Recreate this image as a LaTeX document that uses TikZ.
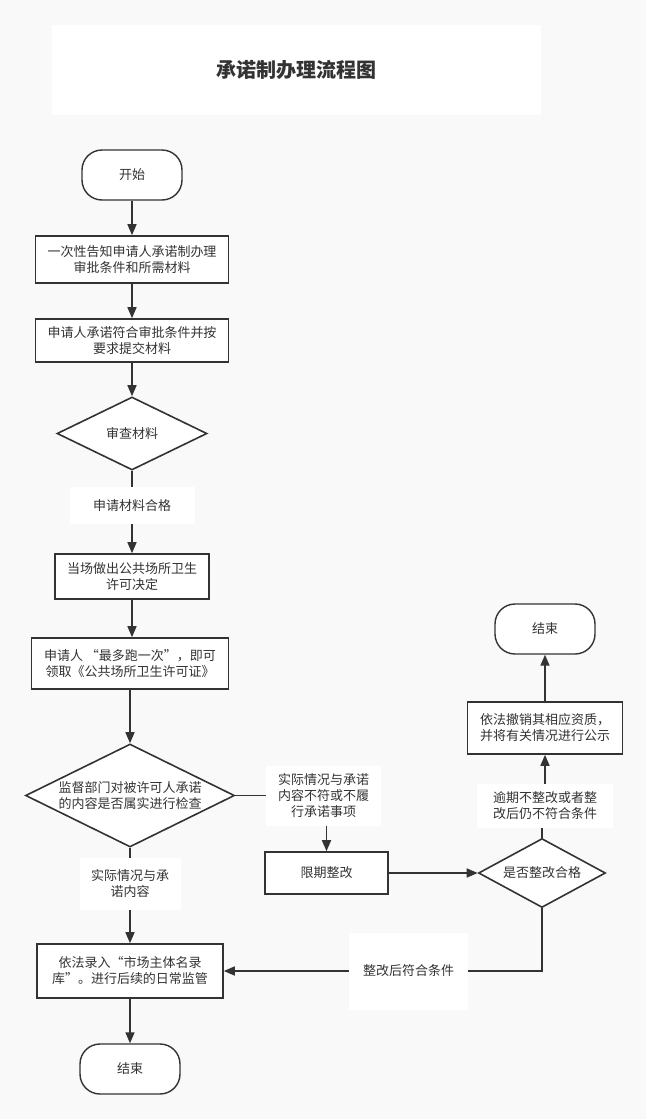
\documentclass[tikz,border=0pt]{standalone}
\usepackage{fontspec}
\setmainfont{Noto Sans CJK SC}
\usepackage{xcolor}
\usepackage{tikz}
\usetikzlibrary{shapes.geometric, arrows.meta}
\usetikzlibrary{calc,positioning}

\definecolor{ink}{HTML}{333333}
\definecolor{page}{HTML}{F9F9F9}

\tikzset{
  every node/.style={text=ink, font=\fontsize{13}{16}\selectfont, align=center},
  proc/.style={draw=ink, line width=1.6pt, fill=white, inner sep=0pt},
  term/.style={draw=ink, line width=1.4pt, fill=white, rounded corners=20pt,
    minimum width=100pt, minimum height=50pt},
  cond/.style={diamond, draw=ink, line width=1.6pt, fill=white, inner sep=0pt},
  tag/.style={fill=white, inner sep=0pt},
  flow/.style={draw=ink, line width=1.6pt, -{Triangle[length=11pt,width=9pt]}},
  link/.style={draw=ink, line width=1.6pt},
}

\begin{document}
\begin{tikzpicture}[x=1pt, y=-1pt]

    % Achtergrond
    \fill[page] (0,0) rectangle (646,1119);
    \useasboundingbox (0,0) rectangle (646,1119);

    % Titel
    \node[fill=white, inner sep=0pt, minimum width=489pt, minimum height=90pt,
      font=\fontsize{20}{24}\selectfont\bfseries] (title) at (296.5,70) {承诺制办理流程图};

    % Hoofdlijn
    \node[term] (start) at (132,175) {开始};
    \node[proc, minimum width=193pt, minimum height=47pt] (notify) at (132,259.5)
      {一次性告知申请人承诺制办理\\审批条件和所需材料};
    \node[proc, minimum width=193pt, minimum height=43pt] (submit) at (132,340.5)
      {申请人承诺符合审批条件并按\\要求提交材料};
    \node[cond, aspect=2, minimum width=150pt, minimum height=73pt] (review) at (132,433.5) {审查材料};
    \node[tag, minimum width=125pt, minimum height=37pt] (lblok) at (132,505.5) {申请材料合格};
    \node[proc, minimum width=154pt, minimum height=45pt] (decide) at (132,576.5)
      {当场做出公共场所卫生\\许可决定};
    \node[proc, minimum width=197pt, minimum height=51pt] (collect) at (130,663.5)
      {申请人 “最多跑一次”，即可\\领取《公共场所卫生许可证》};
    \node[cond, aspect=2, minimum width=209pt, minimum height=103pt] (inspect) at (130,795.5)
      {监督部门对被许可人承诺\\的内容是否属实进行检查};
    \node[tag, minimum width=101pt, minimum height=52pt] (lblmatch) at (130,884)
      {实际情况与承\\诺内容};
    \node[proc, minimum width=186pt, minimum height=54pt] (record) at (130,971)
      {依法录入“市场主体名录\\库”。进行后续的日常监管};
    \node[term] (endA) at (130,1069) {结束};

    % Zijtak
    \node[tag, minimum width=115pt, minimum height=60pt] (lblbad) at (323.5,795.5)
      {实际情况与承诺\\内容不符或不履\\行承诺事项};
    \node[proc, minimum width=123pt, minimum height=42pt] (rectify) at (326.5,873) {限期整改};
    \node[cond, aspect=1.84, minimum width=127pt, minimum height=69pt] (check) at (542,873) {是否整改合格};
    \node[tag, minimum width=136pt, minimum height=44pt] (lbllate) at (545,806)
      {逾期不整改或者整\\改后仍不符合条件};
    \node[proc, minimum width=155pt, minimum height=52pt] (revoke) at (545,728)
      {依法撤销其相应资质，\\并将有关情况进行公示};
    \node[term] (endB) at (545,629) {结束};
    \node[tag, minimum width=119pt, minimum height=77pt] (lblfixed) at (408.5,971) {整改后符合条件};

    % Pijlen hoofdlijn
    \draw[flow] (start) -- (notify);
    \draw[flow] (notify) -- (submit);
    \draw[flow] (submit) -- (review);
    \draw[link] (review) -- (lblok);
    \draw[flow] (lblok) -- (decide);
    \draw[flow] (decide.south) -- (decide.south |- collect.north);
    \draw[flow] (collect) -- (inspect);
    \draw[link] (inspect) -- (lblmatch);
    \draw[flow] (lblmatch) -- (record);
    \draw[flow] (record) -- (endA);

    % Pijlen zijtak
    \draw[link] (inspect.east) -- (lblbad.west);
    \draw[flow] (rectify.north |- lblbad.south) -- (rectify.north);
    \draw[flow] (rectify) -- (check);
    \draw[link] (check.north) -- (check.north |- lbllate.south);
    \draw[flow] (revoke.south |- lbllate.north) -- (revoke.south);
    \draw[flow] (revoke) -- (endB);
    \draw[link] (check.south) |- (lblfixed.east);
    \draw[flow] (lblfixed) -- (record);

\end{tikzpicture}
\end{document}
